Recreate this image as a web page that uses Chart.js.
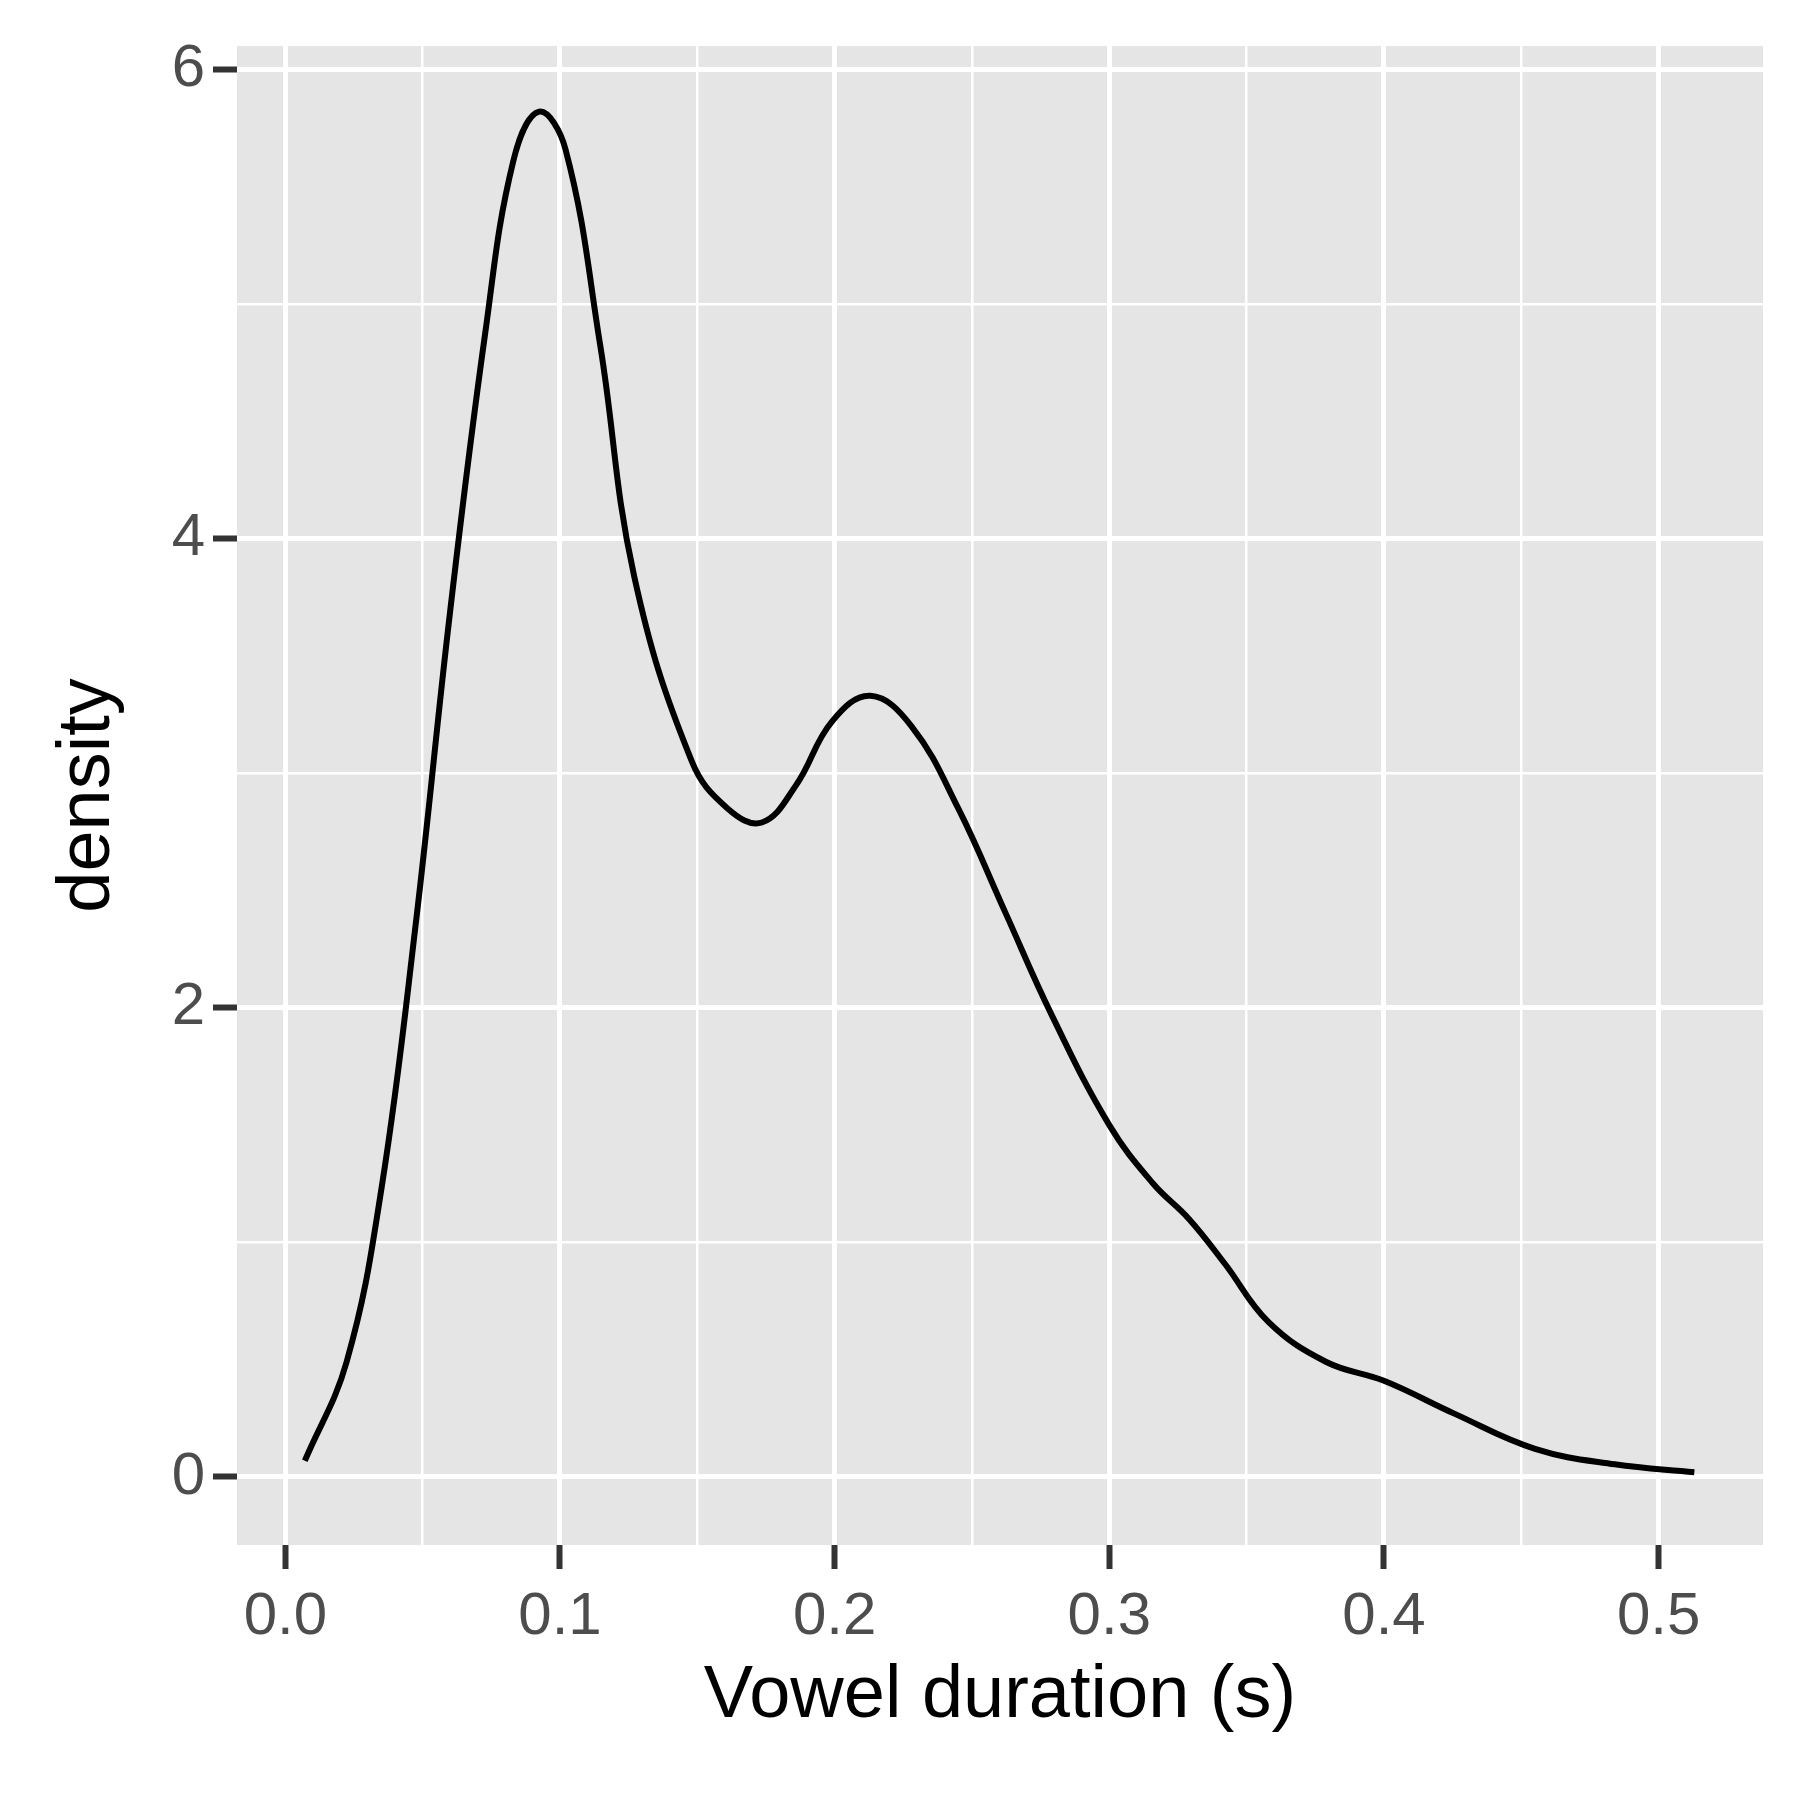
<!DOCTYPE html>
<html>
<head>
<meta charset="utf-8">
<script src="https://cdn.jsdelivr.net/npm/chart.js@4"></script>
<style>body{margin:0;background:#fff}</style>
</head>
<body>
<canvas id="c" width="1800" height="1800"></canvas>
<script>
// density curve
const durations = [0.0071, 0.0223, 0.035, 0.0475, 0.060, 0.0727, 0.083, 0.0924, 0.102, 0.1147, 0.127, 0.148, 0.161, 0.1735, 0.186, 0.199, 0.213, 0.228, 0.245, 0.262, 0.279, 0.300, 0.316, 0.329, 0.342, 0.358, 0.379, 0.400, 0.4256, 0.455, 0.484, 0.513];
const densities = [0.069, 0.49, 1.23, 2.36, 3.69, 4.87, 5.61, 5.82, 5.66, 4.82, 3.84, 3.05, 2.85, 2.79, 2.95, 3.22, 3.33, 3.2, 2.85, 2.41, 1.97, 1.50, 1.25, 1.10, 0.91, 0.66, 0.49, 0.41, 0.27, 0.12, 0.054, 0.02];
const xTicks = [0, 0.05, 0.1, 0.15, 0.2, 0.25, 0.3, 0.35, 0.4, 0.45, 0.5];
const yTicks = [0, 1, 2, 3, 4, 5, 6];

const isMajorX = v => Math.abs(v * 10 - Math.round(v * 10)) < 1e-6;
const isMajorY = v => v % 2 === 0;

const panelBg = {
    id: 'panelBg',
    beforeDraw(chart) {
        const a = chart.chartArea, ctx = chart.ctx;
        ctx.save();
        ctx.fillStyle = '#e5e5e5';
        ctx.fillRect(a.left, a.top, a.right - a.left, a.bottom - a.top);
        ctx.restore();
    }
};

new Chart(document.getElementById('c'), {
    type: 'line',
    data: {
        datasets: [{
            data: durations.map((d, i) => ({x: d, y: densities[i]})),
            borderColor: '#000',
            borderWidth: 6,
            pointRadius: 0,
            tension: 0.4,
            fill: false
        }]
    },
    options: {
        responsive: false,
        devicePixelRatio: 1,
        animation: false,
        layout: {padding: {top: 46, right: 37, left: 40, bottom: 55}},
        plugins: {legend: {display: false}, tooltip: {enabled: false}},
        scales: {
            x: {
                type: 'linear', min: -0.0176, max: 0.538,
                afterBuildTicks: s => { s.ticks = xTicks.map(v => ({value: v})); },
                afterFit: s => { s.height = 200; },
                border: {display: false},
                grid: {
                    color: '#ffffff',
                    lineWidth: c => isMajorX(c.tick.value) ? 5 : 2.5,
                    tickColor: c => isMajorX(c.tick.value) ? '#333333' : 'rgba(0,0,0,0)',
                    tickLength: 24,
                    tickWidth: 6
                },
                ticks: {
                    autoSkip: false, maxRotation: 0, padding: 12,
                    color: '#4d4d4d',
                    font: {family: 'Liberation Sans', size: 60},
                    callback: v => isMajorX(v) ? v.toFixed(1) : ''
                },
                title: {display: true, text: 'Vowel duration (s)', color: '#000',
                        font: {family: 'Liberation Sans', size: 74}, padding: {top: 0}}
            },
            y: {
                min: -0.29, max: 6.1,
                afterBuildTicks: s => { s.ticks = yTicks.map(v => ({value: v})); },
                afterFit: s => { s.width = 197; },
                border: {display: false},
                grid: {
                    color: '#ffffff',
                    lineWidth: c => isMajorY(c.tick.value) ? 5 : 2.5,
                    tickColor: c => isMajorY(c.tick.value) ? '#333333' : 'rgba(0,0,0,0)',
                    tickLength: 24,
                    tickWidth: 6
                },
                ticks: {
                    autoSkip: false, padding: 8,
                    color: '#4d4d4d',
                    font: {family: 'Liberation Sans', size: 60},
                    callback: v => isMajorY(v) ? String(v) : ''
                },
                title: {display: true, text: 'density', color: '#000',
                        font: {family: 'Liberation Sans', size: 74}, padding: {bottom: 0}}
            }
        }
    },
    plugins: [panelBg]
});
</script>
</body>
</html>
